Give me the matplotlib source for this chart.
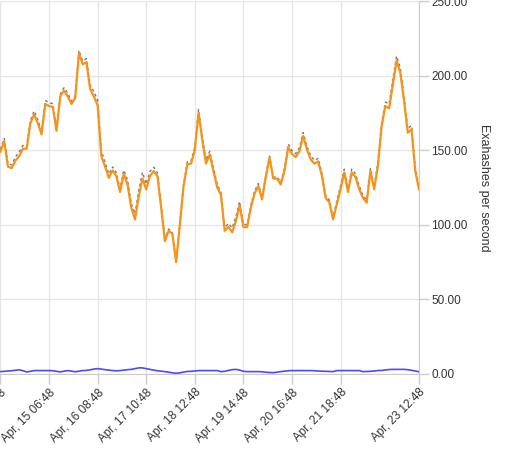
import matplotlib
matplotlib.use('Agg')
import matplotlib.pyplot as plt
import pandas as pd

plt.rcParams['font.family'] = ['Liberation Sans', 'DejaVu Sans']

# samples every 2 hours from Apr 14 04:48
start = pd.Timestamp('2023-04-14 04:48')
step_hours = 2

pool_hashrate = [
    149, 156, 139, 138, 143, 146, 151, 151, 168, 174,
    168, 160.6, 181, 179.6, 179, 163, 186, 190, 186, 181,
    185, 215, 207.5, 209, 191, 186, 180, 146, 139, 131.5,
    136.5, 132.7, 122, 134, 127, 111.5, 103.6, 119, 131, 123.7,
    132.7, 136, 132.7, 111.5, 89, 96, 94, 75, 100, 126,
    140.5, 141, 150, 175, 157, 141, 147, 136, 125, 120,
    96, 98.5, 95, 102.5, 113, 98.5, 98.5, 111.5, 121, 126,
    117, 132, 145, 131, 131, 127, 136, 152, 147.5, 145.4,
    149.4, 159.5, 150.5, 144, 141, 142.5, 133, 118, 115, 103.6,
    113.7, 123.8, 135, 122, 135, 132, 123.8, 118, 114.8, 136,
    123.8, 139.4, 166, 179.6, 178, 194, 210, 202, 183, 161.7,
    164, 136, 123.8,
]

other_hashrate = [
    1.6, 1.8, 2.0, 2.2, 2.5, 2.8, 2.2, 1.4, 1.8, 2.3,
    2.3, 2.3, 2.3, 2.3, 2.2, 1.8, 1.4, 1.9, 2.3, 1.9,
    1.5, 1.9, 2.3, 2.4, 2.8, 3.3, 3.6, 3.3, 2.9, 2.6,
    2.3, 2.1, 2.3, 2.6, 2.9, 3.1, 3.6, 4.1, 4.1, 3.6,
    3.1, 2.6, 2.2, 1.9, 1.6, 1.2, 0.8, 0.5, 0.8, 1.3,
    1.7, 1.8, 2.0, 2.3, 2.3, 2.3, 2.3, 2.3, 2.3, 1.6,
    1.8, 2.4, 2.9, 3.1, 2.6, 1.8, 1.6, 1.6, 1.6, 1.6,
    1.5, 1.2, 1.0, 0.9, 1.2, 1.6, 1.9, 2.2, 2.3, 2.3,
    2.3, 2.3, 2.3, 2.3, 2.2, 2.0, 1.9, 1.8, 1.7, 1.6,
    2.3, 2.3, 2.3, 2.3, 2.3, 2.3, 2.3, 1.6, 1.7, 1.8,
    2.0, 2.3, 2.4, 2.7, 3.0, 3.1, 3.1, 3.1, 3.1, 2.9,
    2.5, 2.0, 1.5,
]

tick_labels = ['Apr, 14 04:48', 'Apr, 15 06:48', 'Apr, 16 08:48', 'Apr, 17 10:48',
               'Apr, 18 12:48', 'Apr, 19 14:48', 'Apr, 20 16:48', 'Apr, 21 18:48',
               'Apr, 23 12:48']
y_ticks = [0, 50, 100, 150, 200, 250]

times = start + pd.to_timedelta([i * step_hours for i in range(len(pool_hashrate))], unit='h')
total = [a + b for a, b in zip(pool_hashrate, other_hashrate)]
tick_times = [pd.to_datetime('2023 ' + t.replace(',', ''), format='%Y %b %d %H:%M') for t in tick_labels]

fig = plt.figure(figsize=(5.22, 4.58), dpi=100)
ax = fig.add_axes([0, 84 / 458, 419 / 522, 373 / 458])

ax.plot(times, total, color='#7a7a7a', lw=1, ls=(0, (2, 2)), zorder=2)
ax.plot(times, pool_hashrate, color='#f7931a', lw=1.6, zorder=3)
ax.plot(times, other_hashrate, color='#4a4aff', lw=1.2, zorder=3)

ax.set_xlim(start - pd.Timedelta(hours=0.25), times[-1])
ax.set_ylim(0, 250)

ax.set_xticks(tick_times)
ax.set_xticklabels(tick_labels, rotation=45, ha='right', va='top',
                   rotation_mode='anchor', color='#333333', fontsize=8.5)
ax.set_yticks(y_ticks)
ax.set_yticklabels(['%.2f' % v for v in y_ticks], color='#333333', fontsize=8.5)

ax.yaxis.tick_right()
ax.yaxis.set_label_position('right')
ax.set_ylabel('Exahashes per second', rotation=-90, labelpad=16, fontsize=9, color='#333333')

ax.tick_params(axis='both', direction='out', length=7, width=1, color='#cccccc', pad=2)
ax.grid(True, color='#e6e6e6', lw=1)
ax.set_axisbelow(True)
for side in ['top', 'left']:
    ax.spines[side].set_visible(False)
ax.spines['right'].set_color('#cccccc')
ax.spines['bottom'].set_color('#cccccc')

fig.savefig('out.png', dpi=100)
